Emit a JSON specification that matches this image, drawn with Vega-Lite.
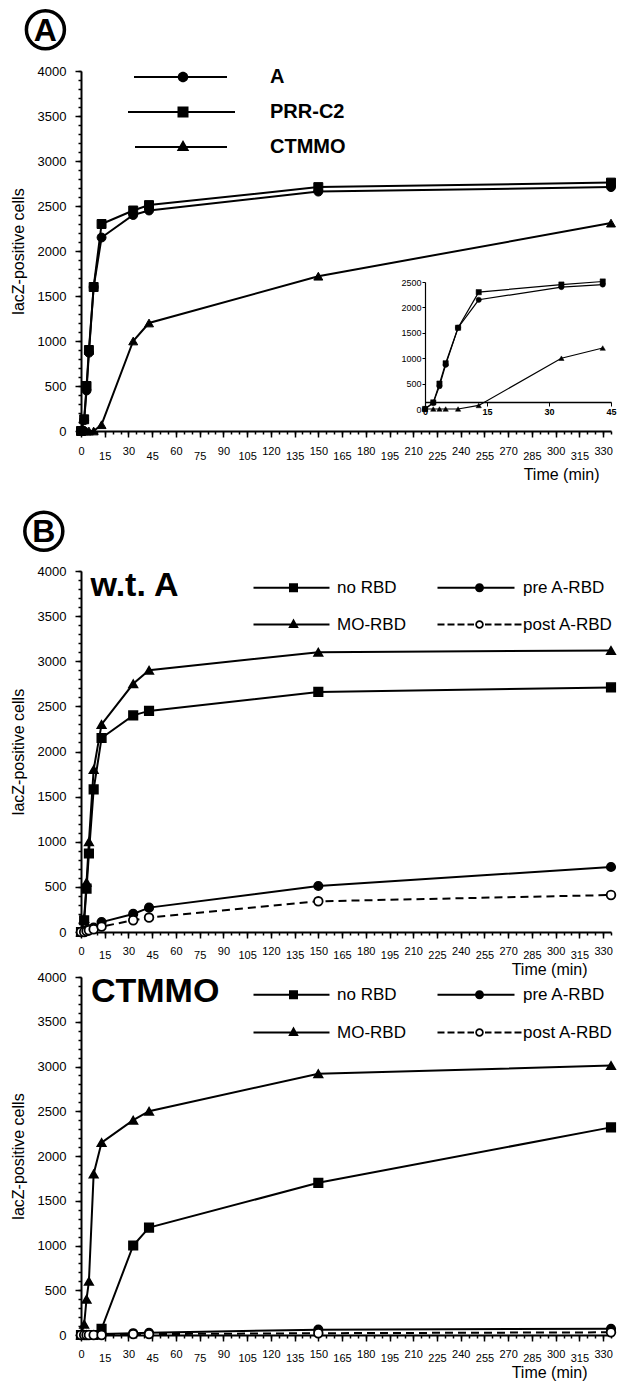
{
  "$schema": "https://vega.github.io/schema/vega-lite/v6.json",
  "padding": {"left": 10, "top": 3, "right": 2, "bottom": 2},
  "spacing": 23,
  "resolve": {"scale": {"shape": "independent"}, "legend": {"shape": "independent"}},
  "config": {
    "font": "Liberation Sans",
    "view": {"stroke": null},
    "axis": {"grid": false, "domainColor": "black", "tickColor": "black", "labelColor": "black", "titleColor": "black", "domainWidth": 2, "tickWidth": 1.5, "titleFontWeight": "normal", "titleFontSize": 16, "labelFont": "Liberation Sans", "titleFont": "Liberation Sans", "labelFlush": false, "labelOverlap": false},
    "legend": {"labelColor": "black", "labelFont": "Liberation Sans", "padding": 0, "title": null}
  },
  "datasets": {
    "panelA": [
      {"s": "A", "t": 0, "v": 0}, {"s": "A", "t": 2, "v": 120}, {"s": "A", "t": 3.5, "v": 450}, {"s": "A", "t": 5, "v": 870}, {"s": "A", "t": 8, "v": 1600}, {"s": "A", "t": 13, "v": 2150}, {"s": "A", "t": 33, "v": 2400}, {"s": "A", "t": 43, "v": 2450}, {"s": "A", "t": 150, "v": 2660}, {"s": "A", "t": 335, "v": 2710},
      {"s": "PRR-C2", "t": 0, "v": 0}, {"s": "PRR-C2", "t": 2, "v": 130}, {"s": "PRR-C2", "t": 3.5, "v": 500}, {"s": "PRR-C2", "t": 5, "v": 900}, {"s": "PRR-C2", "t": 8, "v": 1600}, {"s": "PRR-C2", "t": 13, "v": 2300}, {"s": "PRR-C2", "t": 33, "v": 2450}, {"s": "PRR-C2", "t": 43, "v": 2510}, {"s": "PRR-C2", "t": 150, "v": 2710}, {"s": "PRR-C2", "t": 335, "v": 2760},
      {"s": "CTMMO", "t": 0, "v": 0}, {"s": "CTMMO", "t": 2, "v": 0}, {"s": "CTMMO", "t": 3.5, "v": 0}, {"s": "CTMMO", "t": 5, "v": 0}, {"s": "CTMMO", "t": 8, "v": 0}, {"s": "CTMMO", "t": 13, "v": 70}, {"s": "CTMMO", "t": 33, "v": 1000}, {"s": "CTMMO", "t": 43, "v": 1200}, {"s": "CTMMO", "t": 150, "v": 1720}, {"s": "CTMMO", "t": 335, "v": 2310}
    ],
    "panelB1": [
      {"s": "no RBD", "t": 0, "v": 0}, {"s": "no RBD", "t": 2, "v": 130}, {"s": "no RBD", "t": 3.5, "v": 480}, {"s": "no RBD", "t": 5, "v": 870}, {"s": "no RBD", "t": 8, "v": 1580}, {"s": "no RBD", "t": 13, "v": 2150}, {"s": "no RBD", "t": 33, "v": 2400}, {"s": "no RBD", "t": 43, "v": 2450}, {"s": "no RBD", "t": 150, "v": 2660}, {"s": "no RBD", "t": 335, "v": 2710},
      {"s": "MO-RBD", "t": 0, "v": 0}, {"s": "MO-RBD", "t": 2, "v": 150}, {"s": "MO-RBD", "t": 3.5, "v": 550}, {"s": "MO-RBD", "t": 5, "v": 1000}, {"s": "MO-RBD", "t": 8, "v": 1800}, {"s": "MO-RBD", "t": 13, "v": 2300}, {"s": "MO-RBD", "t": 33, "v": 2750}, {"s": "MO-RBD", "t": 43, "v": 2900}, {"s": "MO-RBD", "t": 150, "v": 3100}, {"s": "MO-RBD", "t": 335, "v": 3120},
      {"s": "pre A-RBD", "t": 0, "v": 0}, {"s": "pre A-RBD", "t": 2, "v": 10}, {"s": "pre A-RBD", "t": 3.5, "v": 20}, {"s": "pre A-RBD", "t": 5, "v": 30}, {"s": "pre A-RBD", "t": 8, "v": 50}, {"s": "pre A-RBD", "t": 13, "v": 110}, {"s": "pre A-RBD", "t": 33, "v": 200}, {"s": "pre A-RBD", "t": 43, "v": 270}, {"s": "pre A-RBD", "t": 150, "v": 510}, {"s": "pre A-RBD", "t": 335, "v": 720},
      {"s": "post A-RBD", "t": 0, "v": 0}, {"s": "post A-RBD", "t": 2, "v": 0}, {"s": "post A-RBD", "t": 3.5, "v": 10}, {"s": "post A-RBD", "t": 5, "v": 20}, {"s": "post A-RBD", "t": 8, "v": 30}, {"s": "post A-RBD", "t": 13, "v": 60}, {"s": "post A-RBD", "t": 33, "v": 130}, {"s": "post A-RBD", "t": 43, "v": 160}, {"s": "post A-RBD", "t": 150, "v": 340}, {"s": "post A-RBD", "t": 335, "v": 410}
    ],
    "panelB2": [
      {"s": "no RBD", "t": 0, "v": 0}, {"s": "no RBD", "t": 2, "v": 0}, {"s": "no RBD", "t": 3.5, "v": 0}, {"s": "no RBD", "t": 5, "v": 0}, {"s": "no RBD", "t": 8, "v": 0}, {"s": "no RBD", "t": 13, "v": 70}, {"s": "no RBD", "t": 33, "v": 1000}, {"s": "no RBD", "t": 43, "v": 1200}, {"s": "no RBD", "t": 150, "v": 1700}, {"s": "no RBD", "t": 335, "v": 2320},
      {"s": "MO-RBD", "t": 0, "v": 0}, {"s": "MO-RBD", "t": 2, "v": 120}, {"s": "MO-RBD", "t": 3.5, "v": 400}, {"s": "MO-RBD", "t": 5, "v": 600}, {"s": "MO-RBD", "t": 8, "v": 1800}, {"s": "MO-RBD", "t": 13, "v": 2150}, {"s": "MO-RBD", "t": 33, "v": 2400}, {"s": "MO-RBD", "t": 43, "v": 2500}, {"s": "MO-RBD", "t": 150, "v": 2920}, {"s": "MO-RBD", "t": 335, "v": 3010},
      {"s": "pre A-RBD", "t": 0, "v": 0}, {"s": "pre A-RBD", "t": 2, "v": 0}, {"s": "pre A-RBD", "t": 3.5, "v": 0}, {"s": "pre A-RBD", "t": 5, "v": 0}, {"s": "pre A-RBD", "t": 8, "v": 0}, {"s": "pre A-RBD", "t": 13, "v": 10}, {"s": "pre A-RBD", "t": 33, "v": 20}, {"s": "pre A-RBD", "t": 43, "v": 25}, {"s": "pre A-RBD", "t": 150, "v": 60}, {"s": "pre A-RBD", "t": 335, "v": 70},
      {"s": "post A-RBD", "t": 0, "v": 0}, {"s": "post A-RBD", "t": 2, "v": 0}, {"s": "post A-RBD", "t": 3.5, "v": 0}, {"s": "post A-RBD", "t": 5, "v": 0}, {"s": "post A-RBD", "t": 8, "v": 0}, {"s": "post A-RBD", "t": 13, "v": 0}, {"s": "post A-RBD", "t": 33, "v": 10}, {"s": "post A-RBD", "t": 43, "v": 10}, {"s": "post A-RBD", "t": 150, "v": 20}, {"s": "post A-RBD", "t": 335, "v": 30}
    ]
  },
  "vconcat": [
    {
      "width": 530,
      "height": 360,
      "layer": [
        {
          "data": {"name": "panelA"},
          "layer": [
            {
              "mark": {"type": "line", "color": "black", "strokeWidth": 2},
              "encoding": {
                "x": {"field": "t", "type": "quantitative", "scale": {"domain": [0, 335], "nice": false, "zero": false},
                  "axis": {"orient": "bottom", "values": [0, 30, 60, 90, 120, 150, 180, 210, 240, 270, 300, 330], "tickSize": 6, "labelPadding": 8, "labelFontSize": 11,
                    "title": "Time (min)", "titleX": 518, "titleY": 43, "titleAlign": "right", "titleBaseline": "middle", "titleAnchor": "end"}},
                "y": {"field": "v", "type": "quantitative", "scale": {"domain": [0, 4000], "nice": false},
                  "axis": {"orient": "left", "values": [0, 500, 1000, 1500, 2000, 2500, 3000, 3500, 4000], "format": "d", "tickSize": 6, "labelFontSize": 13, "labelPadding": 9, "title": "lacZ-positive cells", "titlePadding": 11}},
                "detail": {"field": "s", "type": "nominal"}
              }
            },
            {
              "transform": [{"filter": "datum.s === 'A'"}],
              "mark": {"type": "point", "shape": "circle", "filled": true, "size": 80, "fill": "black", "stroke": "black", "strokeWidth": 1, "opacity": 1},
              "encoding": {"x": {"field": "t", "type": "quantitative", "axis": null}, "y": {"field": "v", "type": "quantitative", "axis": null}}
            },
            {
              "transform": [{"filter": "datum.s === 'PRR-C2'"}],
              "mark": {"type": "point", "shape": "square", "filled": true, "size": 80, "fill": "black", "stroke": "black", "strokeWidth": 1, "opacity": 1},
              "encoding": {"x": {"field": "t", "type": "quantitative", "axis": null}, "y": {"field": "v", "type": "quantitative", "axis": null}}
            },
            {
              "transform": [{"filter": "datum.s === 'CTMMO'"}],
              "mark": {"type": "point", "shape": "triangle-up", "filled": true, "size": 80, "fill": "black", "stroke": "black", "strokeWidth": 1, "opacity": 1},
              "encoding": {"x": {"field": "t", "type": "quantitative", "axis": null}, "y": {"field": "v", "type": "quantitative", "axis": null}}
            },
            {
              "mark": {"type": "point", "filled": true, "fill": "black", "opacity": 0},
              "encoding": {
                "x": {"field": "t", "type": "quantitative", "axis": null},
                "y": {"field": "v", "type": "quantitative", "axis": null},
                "shape": {"field": "s", "type": "nominal",
                  "scale": {"domain": ["A", "PRR-C2", "CTMMO"], "range": ["M-9.8,-0.2H8.8V0.2H-9.8ZM-1.05,0A1.05,1.05,0,1,1,1.05,0A1.05,1.05,0,1,1,-1.05,0Z", "M-11,-0.2H10.4V0.2H-11ZM-1.1,-1.1H1.1V1.1H-1.1Z", "M-9.6,-0.2H8.8V0.2H-9.6ZM0,-1.4L1.25,0.8H-1.25Z"]},
                  "legend": {"orient": "none", "legendX": 92, "legendY": -4, "direction": "vertical", "symbolSize": 100, "symbolOpacity": 1, "symbolFillColor": "black", "symbolStrokeColor": "transparent", "symbolStrokeWidth": 0, "labelFontSize": 20, "labelFontWeight": "bold", "labelOffset": 77, "rowPadding": 15}}
              }
            },
            {
              "mark": {"type": "point", "opacity": 0},
              "encoding": {
                "x": {"field": "t", "type": "quantitative", "axis": {"orient": "bottom", "values": [15, 45, 75, 105, 135, 165, 195, 225, 255, 285, 315], "tickSize": 6, "labelPadding": 13, "labelFontSize": 11, "domain": false, "title": null}},
                "y": {"field": "v", "type": "quantitative", "axis": null}
              }
            },
            {
              "mark": {"type": "point", "opacity": 0},
              "encoding": {
                "x": {"field": "t", "type": "quantitative", "axis": {"orient": "bottom", "values": [0,5,10,15,20,25,30,35,40,45,50,55,60,65,70,75,80,85,90,95,100,105,110,115,120,125,130,135,140,145,150,155,160,165,170,175,180,185,190,195,200,205,210,215,220,225,230,235,240,245,250,255,260,265,270,275,280,285,290,295,300,305,310,315,320,325,330,335], "tickSize": 3, "labels": false, "domain": false, "title": null}},
                "y": {"field": "v", "type": "quantitative", "axis": {"orient": "left", "values": [0,100,200,300,400,500,600,700,800,900,1000,1100,1200,1300,1400,1500,1600,1700,1800,1900,2000,2100,2200,2300,2400,2500,2600,2700,2800,2900,3000,3100,3200,3300,3400,3500,3600,3700,3800,3900,4000], "tickSize": 3, "labels": false, "domain": false, "title": null}}
              }
            },
            {
              "data": {"values": [{}]},
              "mark": {"type": "point", "shape": "circle", "size": 1444, "filled": false, "stroke": "black", "strokeWidth": 3.5, "opacity": 1},
              "encoding": {"x": {"datum": -22.5, "type": "quantitative", "axis": null}, "y": {"datum": 4458, "type": "quantitative", "axis": null}}
            },
            {
              "data": {"values": [{}]},
              "mark": {"type": "text", "text": "A", "fontSize": 32, "fontWeight": "bold", "align": "center", "baseline": "middle", "dy": 1, "color": "black"},
              "encoding": {"x": {"datum": -22.5, "type": "quantitative", "axis": null}, "y": {"datum": 4458, "type": "quantitative", "axis": null}}
            }
          ],
          "resolve": {"axis": {"x": "independent", "y": "independent"}}
        },
        {
          "data": {"name": "panelA"},
          "transform": [{"filter": "datum.t <= 45"}],
          "layer": [
            {
              "mark": {"type": "line", "color": "black", "strokeWidth": 1.2},
              "encoding": {
                "x": {"field": "t", "type": "quantitative", "scale": {"domain": [0, 45], "range": [344, 530], "nice": false, "zero": false},
                  "axis": {"orient": "bottom", "offset": -29, "values": [0, 15, 30, 45], "tickSize": 4, "domainWidth": 1.5, "tickWidth": 1, "labelFontSize": 9, "labelFontWeight": "bold", "labelPadding": 1, "title": null}},
                "y": {"field": "v", "type": "quantitative", "scale": {"domain": [0, 2500], "range": [338, 211], "nice": false},
                  "axis": {"orient": "left", "offset": -344, "values": [0, 500, 1000, 1500, 2000, 2500], "format": "d", "tickSize": 3, "domainWidth": 1.2, "tickWidth": 1, "labelFontSize": 9, "labelPadding": 1, "title": null}},
                "detail": {"field": "s", "type": "nominal"}
              }
            },
            {
              "transform": [{"filter": "datum.s === 'A'"}],
              "mark": {"type": "point", "shape": "circle", "filled": true, "size": 28, "fill": "black", "stroke": "black", "strokeWidth": 0.5, "opacity": 1},
              "encoding": {"x": {"field": "t", "type": "quantitative"}, "y": {"field": "v", "type": "quantitative"}}
            },
            {
              "transform": [{"filter": "datum.s === 'PRR-C2'"}],
              "mark": {"type": "point", "shape": "square", "filled": true, "size": 28, "fill": "black", "stroke": "black", "strokeWidth": 0.5, "opacity": 1},
              "encoding": {"x": {"field": "t", "type": "quantitative"}, "y": {"field": "v", "type": "quantitative"}}
            },
            {
              "transform": [{"filter": "datum.s === 'CTMMO'"}],
              "mark": {"type": "point", "shape": "triangle-up", "filled": true, "size": 28, "fill": "black", "stroke": "black", "strokeWidth": 0.5, "opacity": 1},
              "encoding": {"x": {"field": "t", "type": "quantitative"}, "y": {"field": "v", "type": "quantitative"}}
            }
          ]
        }
      ],
      "resolve": {"scale": {"x": "independent", "y": "independent"}}
    },
    {
      "spacing": -6,
      "resolve": {"scale": {"shape": "independent"}, "legend": {"shape": "independent"}},
      "vconcat": [
        {
          "width": 530,
          "height": 361,
          "data": {"name": "panelB1"},
          "layer": [
            {
              "transform": [{"filter": "datum.s !== 'post A-RBD'"}],
              "mark": {"type": "line", "color": "black", "strokeWidth": 2},
              "encoding": {
                "x": {"field": "t", "type": "quantitative", "scale": {"domain": [0, 335], "nice": false, "zero": false},
                  "axis": {"orient": "bottom", "values": [0, 30, 60, 90, 120, 150, 180, 210, 240, 270, 300, 330], "tickSize": 6, "labelPadding": 7, "labelFontSize": 11,
                    "title": "Time (min)", "titleX": 506, "titleY": 37, "titleAlign": "right", "titleBaseline": "middle", "titleAnchor": "end"}},
                "y": {"field": "v", "type": "quantitative", "scale": {"domain": [0, 4000], "nice": false},
                  "axis": {"orient": "left", "values": [0, 500, 1000, 1500, 2000, 2500, 3000, 3500, 4000], "format": "d", "tickSize": 6, "labelFontSize": 13, "labelPadding": 9, "title": "lacZ-positive cells", "titlePadding": 11}},
                "detail": {"field": "s", "type": "nominal"}
              }
            },
            {
              "transform": [{"filter": "datum.s === 'post A-RBD'"}],
              "mark": {"type": "line", "color": "black", "strokeWidth": 2, "strokeDash": [8, 5]},
              "encoding": {"x": {"field": "t", "type": "quantitative", "axis": null}, "y": {"field": "v", "type": "quantitative", "axis": null}}
            },
            {
              "transform": [{"filter": "datum.s === 'no RBD'"}],
              "mark": {"type": "point", "shape": "square", "filled": true, "size": 75, "fill": "black", "stroke": "black", "strokeWidth": 1.5, "opacity": 1},
              "encoding": {"x": {"field": "t", "type": "quantitative", "axis": null}, "y": {"field": "v", "type": "quantitative", "axis": null}}
            },
            {
              "transform": [{"filter": "datum.s === 'MO-RBD'"}],
              "mark": {"type": "point", "shape": "triangle-up", "filled": true, "size": 75, "fill": "black", "stroke": "black", "strokeWidth": 1.5, "opacity": 1},
              "encoding": {"x": {"field": "t", "type": "quantitative", "axis": null}, "y": {"field": "v", "type": "quantitative", "axis": null}}
            },
            {
              "transform": [{"filter": "datum.s === 'pre A-RBD'"}],
              "mark": {"type": "point", "shape": "circle", "filled": true, "size": 75, "fill": "black", "stroke": "black", "strokeWidth": 1.5, "opacity": 1},
              "encoding": {"x": {"field": "t", "type": "quantitative", "axis": null}, "y": {"field": "v", "type": "quantitative", "axis": null}}
            },
            {
              "transform": [{"filter": "datum.s === 'post A-RBD'"}],
              "mark": {"type": "point", "shape": "circle", "filled": true, "size": 75, "fill": "white", "stroke": "black", "strokeWidth": 1.8, "opacity": 1},
              "encoding": {"x": {"field": "t", "type": "quantitative", "axis": null}, "y": {"field": "v", "type": "quantitative", "axis": null}}
            },
            {
              "mark": {"type": "point", "filled": true, "fill": "black", "opacity": 0},
              "encoding": {
                "x": {"field": "t", "type": "quantitative", "axis": null},
                "y": {"field": "v", "type": "quantitative", "axis": null},
                "shape": {"field": "s", "type": "nominal",
                  "scale": {"domain": ["no RBD", "pre A-RBD", "MO-RBD", "post A-RBD"], "range": ["M-8,-0.2H7.2V0.2H-8ZM-0.9,-0.9H0.9V0.9H-0.9Z", "M-8.4,-0.2H7V0.2H-8.4ZM-0.9,0A0.9,0.9,0,1,1,0.9,0A0.9,0.9,0,1,1,-0.9,0Z", "M-8,-0.2H7.2V0.2H-8ZM0,-1.2L1.05,0.7H-1.05Z", "M-8.4,-0.2H-7V0.2H-8.4ZM-6.4,-0.2H-5V0.2H-6.4ZM-4.4,-0.2H-3V0.2H-4.4ZM-2.4,-0.2H-1.1V0.2H-2.4ZM1.1,-0.2H2.4V0.2H1.1ZM3,-0.2H4.4V0.2H3ZM5,-0.2H6.4V0.2H5ZM7,-0.2H8.4V0.2H7ZM-0.85,0A0.85,0.85,0,1,1,0.85,0A0.85,0.85,0,1,1,-0.85,0ZM-0.5,0A0.5,0.5,0,1,0,0.5,0A0.5,0.5,0,1,0,-0.5,0Z"]},
                  "legend": {"orient": "none", "legendX": 204, "legendY": 8, "direction": "horizontal", "columns": 2, "symbolSize": 100, "symbolOpacity": 1, "symbolFillColor": "black", "symbolStrokeColor": "transparent", "symbolStrokeWidth": 0, "labelFontSize": 17, "labelOffset": 35, "columnPadding": 31, "rowPadding": 19}}
              }
            },
            {
              "mark": {"type": "point", "opacity": 0},
              "encoding": {
                "x": {"field": "t", "type": "quantitative", "axis": {"orient": "bottom", "values": [15, 45, 75, 105, 135, 165, 195, 225, 255, 285, 315], "tickSize": 6, "labelPadding": 11, "labelFontSize": 11, "domain": false, "title": null}},
                "y": {"field": "v", "type": "quantitative", "axis": null}
              }
            },
            {
              "mark": {"type": "point", "opacity": 0},
              "encoding": {
                "x": {"field": "t", "type": "quantitative", "axis": {"orient": "bottom", "values": [0,5,10,15,20,25,30,35,40,45,50,55,60,65,70,75,80,85,90,95,100,105,110,115,120,125,130,135,140,145,150,155,160,165,170,175,180,185,190,195,200,205,210,215,220,225,230,235,240,245,250,255,260,265,270,275,280,285,290,295,300,305,310,315,320,325,330,335], "tickSize": 3, "labels": false, "domain": false, "title": null}},
                "y": {"field": "v", "type": "quantitative", "axis": {"orient": "left", "values": [0,100,200,300,400,500,600,700,800,900,1000,1100,1200,1300,1400,1500,1600,1700,1800,1900,2000,2100,2200,2300,2400,2500,2600,2700,2800,2900,3000,3100,3200,3300,3400,3500,3600,3700,3800,3900,4000], "tickSize": 3, "labels": false, "domain": false, "title": null}}
              }
            },
            {
              "data": {"values": [{}]},
              "mark": {"type": "point", "shape": "circle", "size": 1444, "filled": false, "stroke": "black", "strokeWidth": 3.5, "opacity": 1},
              "encoding": {"x": {"datum": -23.5, "type": "quantitative", "axis": null}, "y": {"datum": 4440, "type": "quantitative", "axis": null}}
            },
            {
              "data": {"values": [{}]},
              "mark": {"type": "text", "text": "B", "fontSize": 32, "fontWeight": "bold", "align": "center", "baseline": "middle", "dy": 1, "color": "black"},
              "encoding": {"x": {"datum": -23.5, "type": "quantitative", "axis": null}, "y": {"datum": 4440, "type": "quantitative", "axis": null}}
            },
            {
              "data": {"values": [{}]},
              "mark": {"type": "text", "text": "w.t. A", "fontSize": 34, "fontWeight": "bold", "align": "left", "baseline": "alphabetic", "color": "black"},
              "encoding": {"x": {"datum": 6, "type": "quantitative", "axis": null}, "y": {"datum": 3723, "type": "quantitative", "axis": null}}
            }
          ],
          "resolve": {"axis": {"x": "independent", "y": "independent"}}
        },
        {
          "width": 530,
          "height": 358,
          "data": {"name": "panelB2"},
          "layer": [
            {
              "transform": [{"filter": "datum.s !== 'post A-RBD'"}],
              "mark": {"type": "line", "color": "black", "strokeWidth": 2},
              "encoding": {
                "x": {"field": "t", "type": "quantitative", "scale": {"domain": [0, 335], "nice": false, "zero": false},
                  "axis": {"orient": "bottom", "values": [0, 30, 60, 90, 120, 150, 180, 210, 240, 270, 300, 330], "tickSize": 6, "labelPadding": 7, "labelFontSize": 11,
                    "title": "Time (min)", "titleX": 506, "titleY": 37, "titleAlign": "right", "titleBaseline": "middle", "titleAnchor": "end"}},
                "y": {"field": "v", "type": "quantitative", "scale": {"domain": [0, 4000], "nice": false},
                  "axis": {"orient": "left", "values": [0, 500, 1000, 1500, 2000, 2500, 3000, 3500, 4000], "format": "d", "tickSize": 6, "labelFontSize": 13, "labelPadding": 9, "title": "lacZ-positive cells", "titlePadding": 11}},
                "detail": {"field": "s", "type": "nominal"}
              }
            },
            {
              "transform": [{"filter": "datum.s === 'post A-RBD'"}],
              "mark": {"type": "line", "color": "black", "strokeWidth": 2, "strokeDash": [8, 5]},
              "encoding": {"x": {"field": "t", "type": "quantitative", "axis": null}, "y": {"field": "v", "type": "quantitative", "axis": null}}
            },
            {
              "transform": [{"filter": "datum.s === 'no RBD'"}],
              "mark": {"type": "point", "shape": "square", "filled": true, "size": 75, "fill": "black", "stroke": "black", "strokeWidth": 1.5, "opacity": 1},
              "encoding": {"x": {"field": "t", "type": "quantitative", "axis": null}, "y": {"field": "v", "type": "quantitative", "axis": null}}
            },
            {
              "transform": [{"filter": "datum.s === 'MO-RBD'"}],
              "mark": {"type": "point", "shape": "triangle-up", "filled": true, "size": 75, "fill": "black", "stroke": "black", "strokeWidth": 1.5, "opacity": 1},
              "encoding": {"x": {"field": "t", "type": "quantitative", "axis": null}, "y": {"field": "v", "type": "quantitative", "axis": null}}
            },
            {
              "transform": [{"filter": "datum.s === 'pre A-RBD'"}],
              "mark": {"type": "point", "shape": "circle", "filled": true, "size": 75, "fill": "black", "stroke": "black", "strokeWidth": 1.5, "opacity": 1},
              "encoding": {"x": {"field": "t", "type": "quantitative", "axis": null}, "y": {"field": "v", "type": "quantitative", "axis": null}}
            },
            {
              "transform": [{"filter": "datum.s === 'post A-RBD'"}],
              "mark": {"type": "point", "shape": "circle", "filled": true, "size": 75, "fill": "white", "stroke": "black", "strokeWidth": 1.8, "opacity": 1},
              "encoding": {"x": {"field": "t", "type": "quantitative", "axis": null}, "y": {"field": "v", "type": "quantitative", "axis": null}}
            },
            {
              "mark": {"type": "point", "filled": true, "fill": "black", "opacity": 0},
              "encoding": {
                "x": {"field": "t", "type": "quantitative", "axis": null},
                "y": {"field": "v", "type": "quantitative", "axis": null},
                "shape": {"field": "s", "type": "nominal",
                  "scale": {"domain": ["no RBD", "pre A-RBD", "MO-RBD", "post A-RBD"], "range": ["M-8,-0.2H7.2V0.2H-8ZM-0.9,-0.9H0.9V0.9H-0.9Z", "M-8.4,-0.2H7V0.2H-8.4ZM-0.9,0A0.9,0.9,0,1,1,0.9,0A0.9,0.9,0,1,1,-0.9,0Z", "M-8,-0.2H7.2V0.2H-8ZM0,-1.2L1.05,0.7H-1.05Z", "M-8.4,-0.2H-7V0.2H-8.4ZM-6.4,-0.2H-5V0.2H-6.4ZM-4.4,-0.2H-3V0.2H-4.4ZM-2.4,-0.2H-1.1V0.2H-2.4ZM1.1,-0.2H2.4V0.2H1.1ZM3,-0.2H4.4V0.2H3ZM5,-0.2H6.4V0.2H5ZM7,-0.2H8.4V0.2H7ZM-0.85,0A0.85,0.85,0,1,1,0.85,0A0.85,0.85,0,1,1,-0.85,0ZM-0.5,0A0.5,0.5,0,1,0,0.5,0A0.5,0.5,0,1,0,-0.5,0Z"]},
                  "legend": {"orient": "none", "legendX": 204, "legendY": 9, "direction": "horizontal", "columns": 2, "symbolSize": 100, "symbolOpacity": 1, "symbolFillColor": "black", "symbolStrokeColor": "transparent", "symbolStrokeWidth": 0, "labelFontSize": 17, "labelOffset": 35, "columnPadding": 31, "rowPadding": 20}}
              }
            },
            {
              "mark": {"type": "point", "opacity": 0},
              "encoding": {
                "x": {"field": "t", "type": "quantitative", "axis": {"orient": "bottom", "values": [15, 45, 75, 105, 135, 165, 195, 225, 255, 285, 315], "tickSize": 6, "labelPadding": 11, "labelFontSize": 11, "domain": false, "title": null}},
                "y": {"field": "v", "type": "quantitative", "axis": null}
              }
            },
            {
              "mark": {"type": "point", "opacity": 0},
              "encoding": {
                "x": {"field": "t", "type": "quantitative", "axis": {"orient": "bottom", "values": [0,5,10,15,20,25,30,35,40,45,50,55,60,65,70,75,80,85,90,95,100,105,110,115,120,125,130,135,140,145,150,155,160,165,170,175,180,185,190,195,200,205,210,215,220,225,230,235,240,245,250,255,260,265,270,275,280,285,290,295,300,305,310,315,320,325,330,335], "tickSize": 3, "labels": false, "domain": false, "title": null}},
                "y": {"field": "v", "type": "quantitative", "axis": {"orient": "left", "values": [0,100,200,300,400,500,600,700,800,900,1000,1100,1200,1300,1400,1500,1600,1700,1800,1900,2000,2100,2200,2300,2400,2500,2600,2700,2800,2900,3000,3100,3200,3300,3400,3500,3600,3700,3800,3900,4000], "tickSize": 3, "labels": false, "domain": false, "title": null}}
              }
            },
            {
              "data": {"values": [{}]},
              "mark": {"type": "text", "text": "CTMMO", "fontSize": 34, "fontWeight": "bold", "align": "left", "baseline": "alphabetic", "color": "black"},
              "encoding": {"x": {"datum": 6.3, "type": "quantitative", "axis": null}, "y": {"datum": 3721, "type": "quantitative", "axis": null}}
            }
          ],
          "resolve": {"axis": {"x": "independent", "y": "independent"}}
        }
      ]
    }
  ]
}
